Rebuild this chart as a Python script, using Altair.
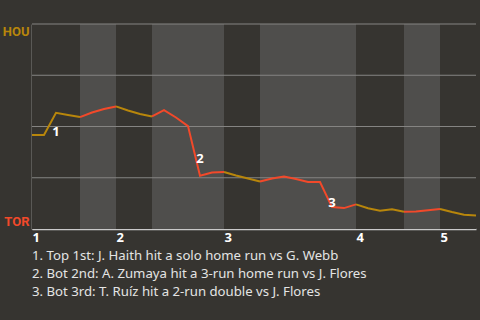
import altair as alt
import pandas as pd

# Win probability (HOU %) after each plate appearance (index 0 = game start)
hou_wp = [45.9, 45.9, 56.7, 55.6, 54.6, 56.8, 58.5, 59.8, 57.8, 56.1, 54.9,
          58.0, 54.4, 50.2, 26.0, 27.6, 27.8, 26.1, 24.6, 23.2, 24.6, 25.6,
          24.4, 22.9, 22.9, 10.7, 10.2, 12.0, 10.1, 8.9, 9.6, 8.4, 8.5, 9.1,
          9.8, 8.3, 7.0, 6.6]
# plate appearances per half inning, in order (top 1st, bot 1st, ...)
half_pa = [4, 3, 3, 6, 3, 8, 4, 3, 3]
half_team = ["HOU", "TOR", "HOU", "TOR", "HOU", "TOR", "HOU", "TOR", "HOU"]
innings = [1, 2, 3, 4, 5]
event_idx = [2, 14, 25]
event_lbl = ["1", "2", "3"]
notes = [
    "1. Top 1st: J. Haith hit a solo home run vs G. Webb",
    "2. Bot 2nd: A. Zumaya hit a 3-run home run vs J. Flores",
    "3. Bot 3rd: T. Ruíz hit a 2-run double vs J. Flores",
]
grid_vals = [25, 50, 75, 100]

GOLD = "#b8860b"
RED = "#f2492a"
BG = "#363430"
FONT = "Noto Sans"

# build tables
starts = []
s = 0
for n in half_pa:
    starts.append(s)
    s += n
total = s

bands = pd.DataFrame({
    "x0": starts,
    "x1": [a + n for a, n in zip(starts, half_pa)],
    "half": ["top" if i % 2 == 0 else "bot" for i in range(len(half_pa))],
})

rows = []
for h, (a, n, t) in enumerate(zip(starts, half_pa, half_team)):
    for i in range(a, a + n + 1):
        rows.append({"pa": i, "wp": hou_wp[i], "seg": h, "team": t})
line_df = pd.DataFrame(rows)

ann_df = pd.DataFrame({
    "pa": event_idx,
    "wp": [(hou_wp[i - 1] + hou_wp[i]) / 2 for i in event_idx],
    "lbl": event_lbl,
})

inning_starts = [starts[2 * k] for k in range(len(innings))]

xs = alt.Scale(domain=[0, total], nice=False, zero=False)
ys = alt.Scale(domain=[0, 100], nice=False)

label_expr = "".join(
    "datum.value==" + str(v) + "?'" + str(n) + "':" for v, n in zip(inning_starts, innings)
) + "''"

xaxis = alt.Axis(
    values=inning_starts,
    labelExpr=label_expr,
    labelAlign="left", labelColor="#ffffff", labelFontWeight="bold",
    labelFontSize=13, labelFont=FONT, labelPadding=2, ticks=False, grid=False,
    domainColor="#c9c9c9", domainWidth=1.5, title=None,
)
yaxis = alt.Axis(
    values=[0, 100],
    labelExpr="datum.value==100?'HOU':'TOR'",
    labelColor=alt.expr("datum.value==100?'" + GOLD + "':'" + RED + "'"),
    labelBaseline=alt.expr("datum.value==100?'top':'bottom'"),
    labelOffset=alt.expr("datum.value==100?1:-1"),
    labelFontWeight="bold", labelFontSize=13, labelFont="Roboto", labelPadding=3,
    ticks=False, grid=False, domainColor="#c9c9c9", domainWidth=1.5, title=None,
)

band_layer = alt.Chart(bands).mark_rect().encode(
    x=alt.X("x0:Q", scale=xs, axis=xaxis),
    x2="x1:Q",
    y=alt.datum(100, scale=ys, axis=yaxis),
    y2=alt.datum(0),
    color=alt.Color("half:N", scale=alt.Scale(domain=["top", "bot"], range=[BG, "#4f4e4c"]), legend=None),
)

grid_layer = alt.Chart(pd.DataFrame({"g": grid_vals})).mark_rule(
    color="#858482", strokeWidth=1
).encode(y=alt.Y("g:Q", scale=ys))

line_layer = alt.Chart(line_df).mark_line(strokeWidth=2).encode(
    x=alt.X("pa:Q", scale=xs),
    y=alt.Y("wp:Q", scale=ys),
    detail="seg:N",
    order="pa:Q",
    color=alt.Color("team:N", scale=alt.Scale(domain=["HOU", "TOR"], range=[GOLD, RED]), legend=None),
)

ann_layer = alt.Chart(ann_df).mark_text(
    color="#ffffff", fontWeight="bold", fontSize=13, font=FONT,
    align="center", baseline="middle", dy=8,
).encode(
    x=alt.X("pa:Q", scale=xs),
    y=alt.Y("wp:Q", scale=ys),
    text="lbl:N",
)

chart = alt.layer(band_layer, grid_layer, line_layer, ann_layer).resolve_scale(
    color="independent"
).properties(
    width=444, height=205,
    background=BG,
    padding={"left": 32, "top": 24, "right": 4, "bottom": 91},
    autosize=alt.AutoSizeParams(type="none"),
    title=alt.TitleParams(
        text=notes, orient="bottom", anchor="start", frame="group", fontSize=13.2,
        font=FONT, fontWeight="normal", color="#e4e4e4", lineHeight=18,
        offset=6,
    ),
).configure_view(stroke=None)

chart.save("out.html", embed_options={"renderer": "svg", "actions": False})
